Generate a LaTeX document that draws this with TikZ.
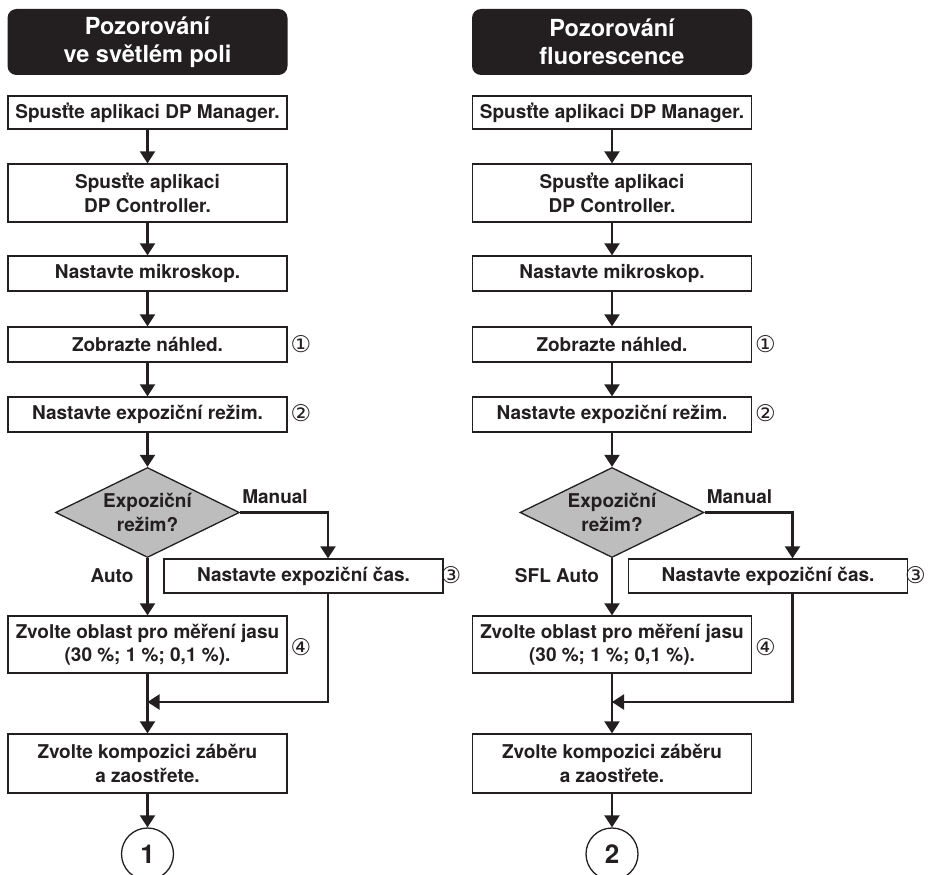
\documentclass[tikz,border=0pt]{standalone}
\usepackage{fontspec}
\setmainfont{TeX Gyre Heros}
\newfontfamily\symfont{DejaVu Sans}
\usetikzlibrary{arrows.meta,shapes.geometric}
\definecolor{ink}{HTML}{231F20}
\definecolor{dgray}{HTML}{BDBDBD}
\tikzset{
  box/.style={draw=ink, line width=1.3pt, fill=white, minimum width=279pt, minimum height=#1,
    inner sep=0pt, align=center, text=ink, font=\bfseries\fontsize{19}{23.5}\selectfont},
  head/.style={fill=ink, rounded corners=9pt, minimum width=280pt, minimum height=66pt,
    inner sep=0pt, align=center, text=white, font=\bfseries\fontsize{23.5}{28}\selectfont},
  dec/.style={shape=diamond, draw=ink, line width=1.3pt, fill=dgray, minimum width=184pt,
    minimum height=90pt, aspect=2, inner sep=0pt, align=center, text=ink,
    font=\bfseries\fontsize{19}{23.5}\selectfont},
  lbl/.style={inner sep=0pt, text=ink, font=\bfseries\fontsize{19}{23.5}\selectfont},
  num/.style={inner sep=0pt, text=ink, font=\symfont\fontsize{23}{23}\selectfont},
  conn/.style={shape=circle, draw=ink, line width=1.3pt, minimum size=52pt, inner sep=0pt,
    text=ink, font=\bfseries\fontsize{26}{26}\selectfont},
  arr/.style={draw=ink, line width=2.2pt, -{Triangle[width=15pt,length=12pt]}},
}
\newcommand\flowcolumn[6]{%
\begin{scope}[xshift=#2pt]
  \node[head] (#1h) at (147.5,42) {#3};
  \node[box=33pt] (#1b1) at (147.5,112.5) {Spusťte aplikaci DP Manager.};
  \node[box=58pt] (#1b2) at (147.5,193) {Spusťte aplikaci\\DP Controller.};
  \node[box=35pt] (#1b3) at (147.5,273.5) {Nastavte mikroskop.};
  \node[box=35pt] (#1b4) at (147.5,344.5) {Zobrazte náhled.};
  \node[box=35pt] (#1b5) at (147.5,414.5) {Nastavte expoziční režim.};
  \node[dec] (#1d) at (147.5,512.5) {Expoziční\\režim?};
  \node[box=34pt] (#1b6) at (303.5,576) {Nastavte expoziční čas.};
  \node[box=57pt] (#1b7) at (147.5,644.5) {Zvolte oblast pro měření jasu\\(30~\%; 1~\%; 0,1~\%).};
  \node[box=59pt] (#1b8) at (147.5,763.5) {Zvolte kompozici záběru\\a zaostřete.};
  \node[conn] (#1c) at (147.5,854) {#5};
  \node[lbl] (#1man) at (275,497) {Manual};
  \node[lbl] (#1auto) at (#4) {#6};
  \node[num] (#1n1) at (301,344) {①};
  \node[num] (#1n2) at (301,413) {②};
  \node[num] (#1n3) at (451,575) {③};
  \node[num] (#1n4) at (301,647) {④};
  \coordinate (#1j) at (147.5,702);
  \draw[arr] (#1b1) -- (#1b2);
  \draw[arr] (#1b2) -- (#1b3);
  \draw[arr] (#1b3) -- (#1b4);
  \draw[arr] (#1b4) -- (#1b5);
  \draw[arr] (#1b5) -- (#1d);
  \draw[arr] (#1d) -- (#1b7);
  \draw[arr] (#1d.east) -| ([xshift=24.5pt]#1b6.north);
  \draw[arr] ([xshift=24.5pt]#1b6.south) |- (#1j);
  \draw[arr] (#1b7) -- (#1b8);
  \draw[arr] (#1b8) -- (#1c);
\end{scope}}
\begin{document}
\begin{tikzpicture}[x=1pt,y=-1pt]
  \useasboundingbox (0,0) rectangle (929,875);
  \flowcolumn{L}{0}{Pozorování\\ve světlém poli}{112,576}{1}{Auto}
  \flowcolumn{R}{464.5}{Pozorování\\fluorescence}{92.5,576}{2}{SFL Auto}
\end{tikzpicture}
\end{document}
